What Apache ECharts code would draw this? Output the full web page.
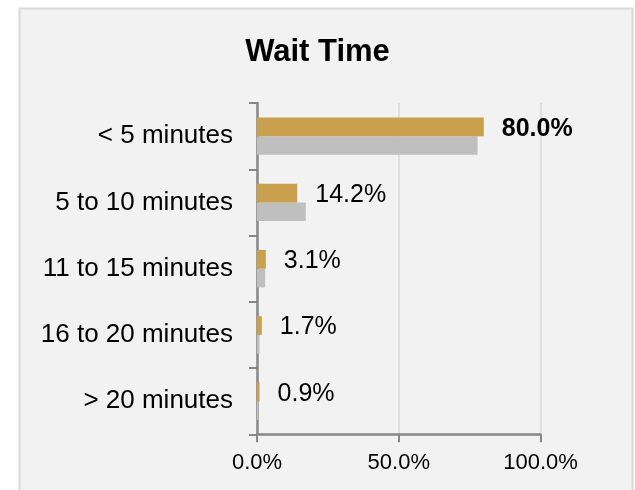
<!DOCTYPE html>
<html>
<head>
<meta charset="utf-8">
<style>
  html, body { margin: 0; padding: 0; background: #ffffff; }
  #chart { width: 635px; height: 490px; }
</style>
<script src="https://cdn.jsdelivr.net/npm/echarts@6/dist/echarts.min.js"></script>
</head>
<body>
<div id="chart"></div>
<script>
// Wait time buckets and their shares (%)
const categories = ['< 5 minutes', '5 to 10 minutes', '11 to 15 minutes', '16 to 20 minutes', '> 20 minutes'];
const currentValues = [80.0, 14.2, 3.1, 1.7, 0.9];
const comparisonValues = [77.8, 17.2, 2.9, 0.9, 0.5];
const xTicks = [0, 50, 100];

const FONT = "'Liberation Sans', Arial, sans-serif";
const AXIS_GREY = '#878787';

const chart = echarts.init(document.getElementById('chart'), null, { renderer: 'canvas' });

const currentData = currentValues.map((v, i) => ({
  value: v,
  label: i === 0 ? { fontWeight: 'bold' } : {}
}));

chart.setOption({
  backgroundColor: '#ffffff',
  animation: false,
  graphic: [{
    type: 'rect',
    z: -10,
    silent: true,
    shape: { x: 19.5, y: 8.5, width: 613, height: 500 },
    style: { fill: '#f2f2f2', stroke: '#d9d9d9', lineWidth: 2 }
  }],
  title: {
    text: 'Wait Time',
    left: 'center',
    top: 37,
    padding: 0,
    textStyle: { fontFamily: FONT, fontSize: 31, fontWeight: 'bold', color: '#000000' }
  },
  grid: { left: 257, right: 94.5, top: 103, bottom: 55.7, containLabel: false },
  xAxis: {
    type: 'value',
    min: xTicks[0],
    max: xTicks[xTicks.length - 1],
    interval: 50,
    axisLine: { show: true, lineStyle: { color: AXIS_GREY, width: 2.5 } },
    axisTick: { show: true, length: 8, lineStyle: { color: AXIS_GREY, width: 2 } },
    splitLine: { show: true, lineStyle: { color: '#d9d9d9', width: 1.5 } },
    axisLabel: {
      margin: 18,
      fontFamily: FONT,
      fontSize: 22,
      color: '#000000',
      formatter: v => v.toFixed(1) + '%'
    }
  },
  yAxis: {
    type: 'category',
    inverse: true,
    data: categories,
    axisLine: { show: true, lineStyle: { color: AXIS_GREY, width: 2.5 } },
    axisTick: { show: true, length: 8, alignWithLabel: false, lineStyle: { color: AXIS_GREY, width: 2 } },
    axisLabel: { margin: 24, fontFamily: FONT, fontSize: 26, color: '#000000' }
  },
  series: [
    {
      name: 'Current',
      type: 'bar',
      data: currentData,
      barGap: '0%',
      barCategoryGap: '43.5%',
      itemStyle: { color: '#c8a04e' },
      label: {
        show: true,
        position: 'right',
        distance: 18,
        offset: [0, 2],
        fontFamily: FONT,
        fontSize: 25,
        color: '#000000',
        formatter: p => p.value.toFixed(1) + '%'
      },
      z: 3
    },
    {
      name: 'Comparison',
      type: 'bar',
      data: comparisonValues,
      barGap: '0%',
      barCategoryGap: '43.5%',
      itemStyle: { color: '#bfbfbf' },
      z: 2
    }
  ]
});
</script>
</body>
</html>
